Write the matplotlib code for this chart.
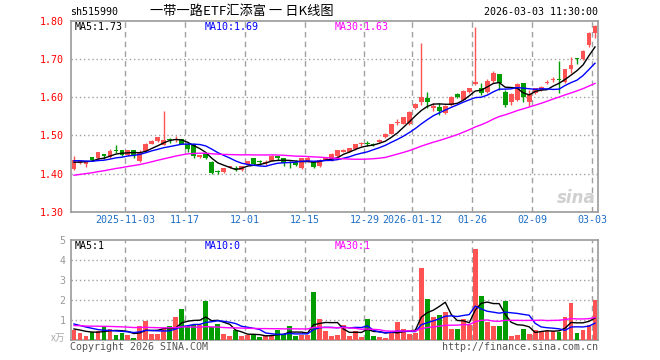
import numpy as np
import matplotlib.pyplot as plt

# tick labels on the date axis (index of the first trading day of each label)
tick_labels = ['2025-11-03', '11-17', '12-01', '12-15', '12-29',
               '2026-01-12', '01-26', '02-09', '03-03']
tick_idx = [9, 19, 29, 39, 49, 57, 67, 77, 87]

# daily OHLC, 2025-10-21 .. 2026-03-03
opens = [1.412, 1.428, 1.426, 1.445, 1.440, 1.451, 1.444, 1.461, 1.461, 1.448,
         1.461, 1.434, 1.459, 1.479, 1.486, 1.476, 1.490, 1.488, 1.490, 1.478,
         1.476, 1.444, 1.453, 1.430, 1.407, 1.404, 1.418, 1.415, 1.411, 1.426,
         1.441, 1.432, 1.427, 1.433, 1.446, 1.441, 1.430, 1.431, 1.415, 1.433,
         1.430, 1.420, 1.437, 1.434, 1.446, 1.457, 1.457, 1.464, 1.479, 1.480,
         1.479, 1.483, 1.495, 1.505, 1.533, 1.531, 1.530, 1.571, 1.588, 1.597,
         1.573, 1.575, 1.558, 1.579, 1.608, 1.594, 1.614, 1.634, 1.623, 1.614,
         1.643, 1.660, 1.614, 1.588, 1.592, 1.636, 1.588, 1.610, 1.619, 1.636,
         1.645, 1.647, 1.640, 1.673, 1.702, 1.699, 1.736, 1.767]
highs = [1.446, 1.434, 1.434, 1.445, 1.456, 1.451, 1.464, 1.475, 1.461, 1.462,
         1.461, 1.462, 1.481, 1.488, 1.496, 1.564, 1.494, 1.498, 1.492, 1.480,
         1.480, 1.450, 1.455, 1.433, 1.410, 1.416, 1.421, 1.420, 1.421, 1.434,
         1.441, 1.435, 1.435, 1.448, 1.447, 1.442, 1.432, 1.435, 1.442, 1.447,
         1.432, 1.438, 1.444, 1.453, 1.462, 1.464, 1.467, 1.478, 1.483, 1.486,
         1.480, 1.490, 1.506, 1.531, 1.543, 1.548, 1.563, 1.584, 1.742, 1.614,
         1.585, 1.585, 1.580, 1.603, 1.610, 1.619, 1.625, 1.784, 1.638, 1.648,
         1.669, 1.660, 1.619, 1.610, 1.636, 1.636, 1.618, 1.625, 1.629, 1.645,
         1.653, 1.695, 1.675, 1.704, 1.702, 1.723, 1.771, 1.788]
lows = [1.409, 1.426, 1.418, 1.433, 1.437, 1.439, 1.442, 1.453, 1.446, 1.447,
        1.440, 1.431, 1.456, 1.477, 1.483, 1.475, 1.481, 1.483, 1.477, 1.457,
        1.440, 1.442, 1.438, 1.400, 1.400, 1.401, 1.416, 1.407, 1.407, 1.424,
        1.423, 1.424, 1.422, 1.432, 1.435, 1.420, 1.415, 1.421, 1.413, 1.430,
        1.414, 1.418, 1.435, 1.433, 1.444, 1.456, 1.456, 1.463, 1.472, 1.472,
        1.472, 1.482, 1.494, 1.503, 1.527, 1.530, 1.528, 1.570, 1.579, 1.571,
        1.565, 1.553, 1.555, 1.577, 1.598, 1.592, 1.610, 1.632, 1.606, 1.612,
        1.636, 1.619, 1.575, 1.580, 1.590, 1.588, 1.577, 1.608, 1.617, 1.634,
        1.640, 1.612, 1.638, 1.662, 1.688, 1.697, 1.732, 1.754]
closes = [1.435, 1.432, 1.432, 1.437, 1.456, 1.446, 1.459, 1.459, 1.448, 1.461,
          1.450, 1.457, 1.477, 1.486, 1.496, 1.488, 1.488, 1.490, 1.479, 1.465,
          1.446, 1.449, 1.440, 1.403, 1.405, 1.415, 1.420, 1.412, 1.420, 1.433,
          1.425, 1.430, 1.431, 1.447, 1.441, 1.427, 1.428, 1.423, 1.440, 1.442,
          1.418, 1.437, 1.442, 1.451, 1.461, 1.463, 1.466, 1.477, 1.480, 1.478,
          1.474, 1.489, 1.505, 1.530, 1.535, 1.547, 1.562, 1.582, 1.601, 1.588,
          1.577, 1.565, 1.577, 1.601, 1.600, 1.617, 1.623, 1.640, 1.612, 1.642,
          1.662, 1.636, 1.579, 1.608, 1.634, 1.601, 1.608, 1.623, 1.627, 1.640,
          1.647, 1.645, 1.673, 1.684, 1.699, 1.721, 1.767, 1.786]
# volume in 万 lots
volumes = [0.47, 0.35, 0.17, 0.40, 0.45, 0.62, 0.55, 0.25, 0.35, 0.25,
           0.10, 0.70, 0.92, 0.30, 0.30, 0.55, 0.67, 1.12, 1.55, 0.70,
           0.75, 0.72, 1.92, 0.63, 0.80, 0.27, 0.20, 0.47, 0.17, 0.23,
           0.23, 0.12, 0.17, 0.23, 0.47, 0.30, 0.70, 0.17, 0.22, 0.22,
           2.37, 1.05, 0.42, 0.17, 0.25, 0.75, 0.20, 0.45, 0.12, 1.05,
           0.20, 0.15, 0.10, 0.33, 0.90, 0.52, 0.27, 0.32, 3.60, 2.05,
           1.12, 1.22, 1.37, 0.52, 0.55, 1.05, 0.72, 4.57, 2.20, 0.87,
           0.67, 0.70, 1.92, 0.17, 0.25, 0.55, 0.30, 0.50, 0.40, 0.45,
           0.45, 0.38, 1.15, 1.85, 0.35, 0.47, 0.75, 1.97]

# sessions before the visible window, only used for the moving averages
prev_closes = [1.365, 1.368, 1.372, 1.370, 1.374, 1.369, 1.372, 1.375, 1.375,
               1.376, 1.378, 1.374, 1.372, 1.376, 1.380, 1.378, 1.382, 1.385, 1.385,
               1.414, 1.432, 1.440, 1.445, 1.436, 1.437, 1.430, 1.426, 1.431, 1.428]
prev_volumes = [0.55, 0.72, 0.60, 0.48, 0.81, 0.66, 0.59, 0.70, 0.62, 0.75,
                0.58, 0.64, 0.69, 0.52, 0.77, 0.63, 0.71, 0.60, 0.68, 0.90,
                1.10, 0.95, 1.05, 1.07, 0.98, 0.62, 0.50, 0.58, 0.48]

RED = '#ff5353'
GREEN = '#009c00'
GRID = '#a0a0a0'
MONO = 'DejaVu Sans Mono'
CJK = ['Noto Sans CJK SC', 'DejaVu Sans']


def moving_avg(prev, vals, n):
    full = np.array(prev + vals)
    return np.convolve(full, np.ones(n) / n, mode='valid')[-len(vals):]


def px(x, y):
    return x / 660, 1 - y / 360


n = len(closes)
x = np.arange(n)
colors = [RED if c >= o else GREEN for o, c in zip(opens, closes)]

fig = plt.figure(figsize=(6.6, 3.6), dpi=100)
ax = fig.add_axes([71 / 660, 1 - 212 / 360, 527 / 660, 191.3 / 360])
axv = fig.add_axes([71 / 660, 1 - 339.5 / 360, 527 / 660, 99.5 / 360])

# candles
bottoms = [min(o, c) for o, c in zip(opens, closes)]
heights = [max(abs(c - o), 0.0012) for o, c in zip(opens, closes)]
ax.vlines(x, lows, highs, colors=colors, linewidth=1, zorder=3)
ax.bar(x, heights, bottom=bottoms, width=0.8, color=colors, linewidth=0, zorder=4)

ax.plot(x, moving_avg(prev_closes, closes, 5), color='black', lw=1, zorder=5)
ax.plot(x, moving_avg(prev_closes, closes, 10), color='#0000ff', lw=1, zorder=5)
ax.plot(x, moving_avg(prev_closes, closes, 30), color='#ff00ff', lw=1, zorder=5)

# volume
axv.bar(x, volumes, width=0.8, color=colors, linewidth=0, zorder=3)
axv.plot(x, moving_avg(prev_volumes, volumes, 5), color='black', lw=1, zorder=5)
axv.plot(x, moving_avg(prev_volumes, volumes, 10), color='#0000ff', lw=1, zorder=5)
axv.plot(x, moving_avg(prev_volumes, volumes, 30), color='#ff00ff', lw=1, zorder=5)

grid_x = [i - 0.5 for i in tick_idx]
for a in (ax, axv):
    a.set_xlim(-0.5, n - 0.5)
    for s in a.spines.values():
        s.set_color('#999999')
        s.set_linewidth(1.2)
    for gx in grid_x:
        a.axvline(gx, color=GRID, lw=1, ls=(0, (4, 3)), zorder=1)
    a.tick_params(length=0)

ax.set_ylim(1.30, 1.80)
price_ticks = [1.30, 1.40, 1.50, 1.60, 1.70, 1.80]
ax.set_yticks(price_ticks)
ax.set_yticklabels(['%.2f' % p for p in price_ticks], color='red',
                   fontfamily=MONO, fontsize=7.2)
for p in price_ticks[1:-1]:
    ax.axhline(p, color=GRID, lw=1, ls=(0, (1, 2)), zorder=1)
ax.set_xticks(grid_x)
ax.set_xticklabels(tick_labels, color='#1f6fc5', fontfamily=MONO, fontsize=7.2)
ax.tick_params(axis='y', pad=5)
ax.tick_params(axis='x', pad=2)

axv.set_ylim(0, 5)
axv.set_yticks([1, 2, 3, 4, 5])
axv.set_yticklabels(['1', '2', '3', '4', '5'], color='#999999',
                    fontfamily=MONO, fontsize=7.2)
for v in [1, 2, 3, 4]:
    axv.axhline(v, color=GRID, lw=1, ls=(0, (1, 2)), zorder=1)
axv.set_xticks([])
axv.tick_params(axis='y', pad=4)

# texts
fig.text(*px(70, 12), 'sh515990', fontfamily=MONO, fontsize=7.2, va='center')
fig.text(*px(242, 12), '一带一路ETF汇添富 一 日K线图', family=CJK, fontsize=9.5,
         va='center', ha='center')
fig.text(*px(598, 12), '2026-03-03 11:30:00', fontfamily=MONO, fontsize=7.2,
         va='center', ha='right')

fig.text(*px(75, 27), 'MA5:1.73', fontfamily=MONO, fontsize=7.2, va='center')
fig.text(*px(205, 27), 'MA10:1.69', fontfamily=MONO, fontsize=7.2, va='center',
         color='#0000ff')
fig.text(*px(335, 27), 'MA30:1.63', fontfamily=MONO, fontsize=7.2, va='center',
         color='#ff00ff')

fig.text(*px(75, 246), 'MA5:1', fontfamily=MONO, fontsize=7.2, va='center')
fig.text(*px(205, 246), 'MA10:0', fontfamily=MONO, fontsize=7.2, va='center',
         color='#0000ff')
fig.text(*px(335, 246), 'MA30:1', fontfamily=MONO, fontsize=7.2, va='center',
         color='#ff00ff')

fig.text(*px(65, 338), 'x万', family=CJK, fontsize=7, va='center', ha='right',
         color='#aaaaaa')
fig.text(*px(70, 347), 'Copyright 2026 SINA.COM', fontfamily=MONO, fontsize=7.2,
         va='center', color='#555555')
fig.text(*px(598, 347), 'http://finance.sina.com.cn', fontfamily=MONO,
         fontsize=7.2, va='center', ha='right', color='#555555')

# faint sina watermark
fig.text(*px(596, 198), 'sina', fontsize=12, fontweight='bold', style='italic',
         color='#d0d0d0', ha='right', va='center', zorder=0)

fig.savefig('out.png', dpi=100)
